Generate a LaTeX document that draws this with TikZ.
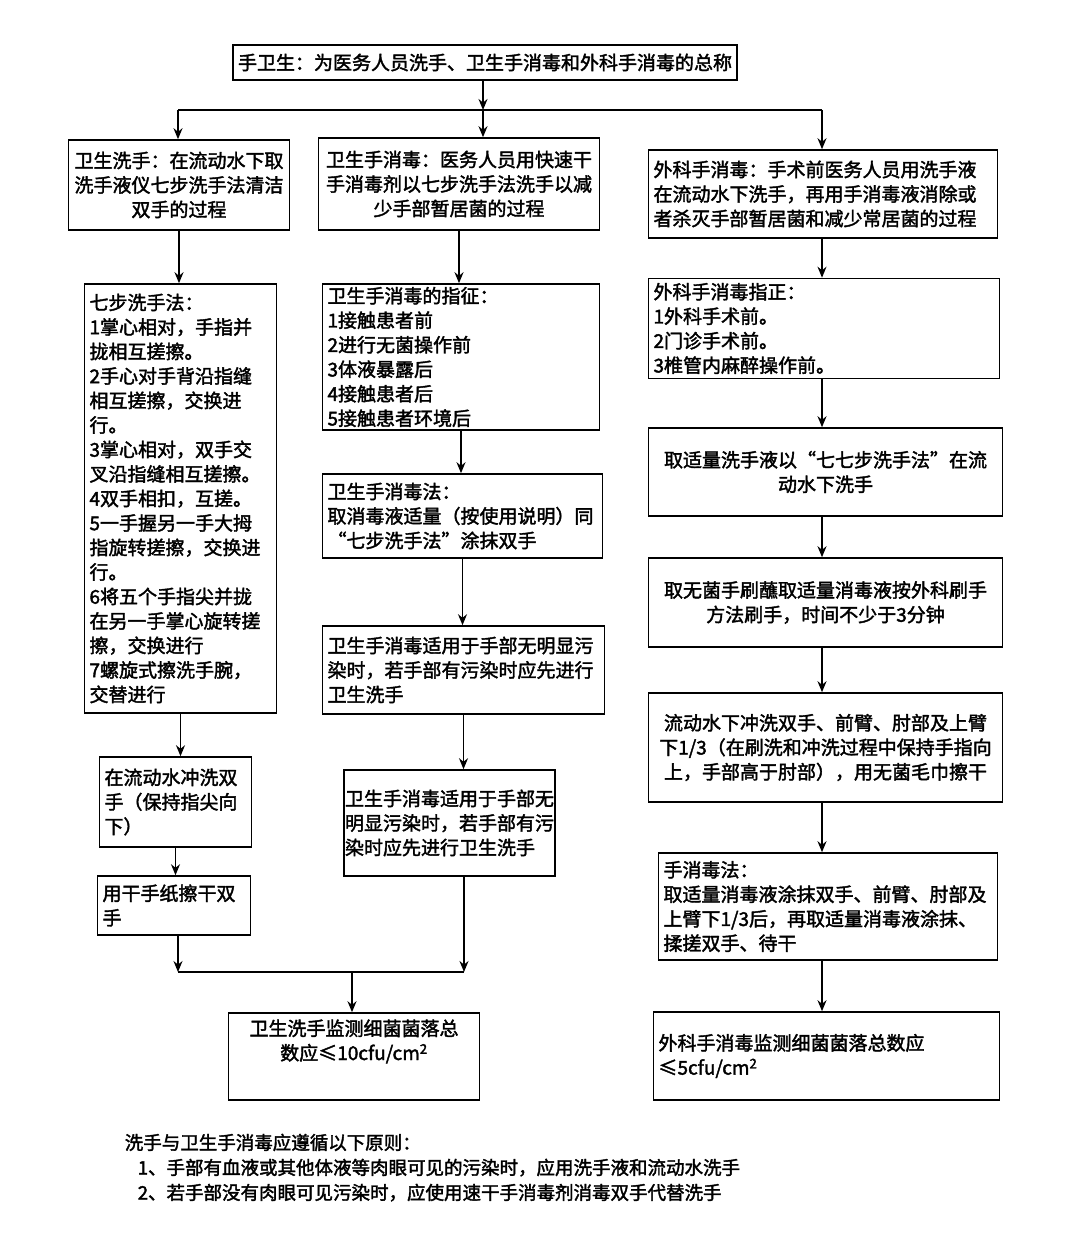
\documentclass[tikz,border=0pt]{standalone}
\usepackage{fontspec}
\setmainfont{Noto Sans CJK SC}[AutoFakeBold=2]
\usepackage{tikz}
\usetikzlibrary{arrows.meta}

\newcommand{\boxfont}{\fontsize{19}{24.5}\selectfont\bfseries}

\begin{document}
\begin{tikzpicture}[
    x=1pt, y=-1pt,
    >={Stealth[length=11pt,width=9pt]},
    line width=1.6pt,
    box/.style={draw, rectangle, line width=1.6pt, inner sep=5pt, align=left, font=\boxfont},
    cbox/.style={box, align=center}
]
    \useasboundingbox (0,0) rectangle (1080,1246);

    % Top
    \node[box, minimum height=35pt] (hh_top) at (485,62.5) {手卫生：为医务人员洗手、卫生手消毒和外科手消毒的总称};

    % Three branches
    \node[cbox, text width=211pt, minimum height=90pt] (wash_def) at (179,185) {卫生洗手：在流动水下取\\洗手液仪七步洗手法清洁\\双手的过程};
    \node[cbox, text width=271pt, minimum height=92pt] (hyg_def) at (459,184) {卫生手消毒：医务人员用快速干\\手消毒剂以七步洗手法洗手以减\\少手部暂居菌的过程};
    \node[box, text width=339pt, minimum height=88pt] (surg_def) at (823,194) {外科手消毒：手术前医务人员用洗手液\\在流动水下洗手，再用手消毒液消除或\\者杀灭手部暂居菌和减少常居菌的过程};

    \coordinate (split_l) at (178,110);
    \coordinate (split_mid) at (483,110);
    \coordinate (split_r) at (822,110);

    \draw[->] (hh_top.south -| split_mid) -- (split_mid);
    \draw (split_l) -- (split_r);
    \draw[->] (split_l) -- (wash_def.north -| split_l);
    \draw[->] (split_mid) -- (hyg_def.north -| split_mid);
    \draw[->] (split_r) -- (surg_def.north -| split_r);

    % Left column: hand washing
    \node[box, text width=182pt, minimum height=429pt] (wash_steps) at (180.5,498.5) {七步洗手法：\\1掌心相对，手指并\\拢相互搓擦。\\2手心对手背沿指缝\\相互搓擦，交换进\\行。\\3掌心相对，双手交\\叉沿指缝相互搓擦。\\4双手相扣，互搓。\\5一手握另一手大拇\\指旋转搓擦，交换进\\行。\\6将五个手指尖并拢\\在另一手掌心旋转搓\\擦，交换进行\\7螺旋式擦洗手腕，\\交替进行};
    \node[box, text width=142pt, minimum height=90pt] (rinse) at (175.5,802) {在流动水冲洗双\\手（保持指尖向\\下）};
    \node[box, text width=143pt, minimum height=59pt] (dry) at (174,905.5) {用干手纸擦干双\\手};

    \draw[->] (wash_def.south) -- (wash_def.south |- wash_steps.north);
    \draw[->] (wash_steps.south) -- (wash_steps.south |- rinse.north);
    \draw[->] (rinse.south) -- (rinse.south |- dry.north);

    % Middle column: hygienic hand disinfection
    \node[box, text width=267pt, minimum height=146pt, inner ysep=2pt] (hyg_ind) at (461,357) {卫生手消毒的指征：\\1接触患者前\\2进行无菌操作前\\3体液暴露后\\4接触患者后\\5接触患者环境后};
    \node[box, text width=270pt, minimum height=84pt] (hyg_method) at (462.5,516) {卫生手消毒法：\\取消毒液适量（按使用说明）同\\“七步洗手法”涂抹双手};
    \node[box, text width=272pt, minimum height=88pt] (hyg_use) at (463.5,670) {卫生手消毒适用于手部无明显污\\染时，若手部有污染时应先进行\\卫生洗手};
    \node[box, text width=209pt, inner xsep=1pt, minimum height=106pt] (hyg_use2) at (449.5,823) {卫生手消毒适用于手部无\\明显污染时，若手部有污\\染时应先进行卫生洗手};

    \draw[->] (hyg_def.south) -- (hyg_def.south |- hyg_ind.north);
    \draw[->] (hyg_ind.south) -- (hyg_ind.south |- hyg_method.north);
    \draw[->] (hyg_method.south) -- (hyg_method.south |- hyg_use.north);
    \draw[->] (hyg_use.south) -- (hyg_use.south |- hyg_use2.north);

    % Merge into the check
    \node[cbox, text width=241pt, minimum height=87pt, text depth=58pt] (wash_check) at (354,1056.5) {卫生洗手监测细菌菌落总\\数应≤10cfu/cm\textsuperscript{2}};

    \coordinate (join_l) at (178,972);
    \coordinate (join_mid) at (352,972);
    \coordinate (join_r) at (464,972);

    \draw[->] (dry.south -| join_l) -- (join_l);
    \draw[->] (hyg_use2.south -| join_r) -- (join_r);
    \draw (join_l) -- (join_r);
    \draw[->] (join_mid) -- (wash_check.north -| join_mid);

    % Right column: surgical hand disinfection
    \node[box, text width=341pt, minimum height=100pt, inner ysep=2pt] (surg_ind) at (824,328.5) {外科手消毒指正：\\1外科手术前。\\2门诊手术前。\\3椎管内麻醉操作前。};
    \node[cbox, text width=344pt, minimum height=88pt] (surg_wash) at (825.5,472) {取适量洗手液以“七七步洗手法”在流\\动水下洗手};
    \node[cbox, text width=344pt, minimum height=89pt] (surg_brush) at (825.5,602.5) {取无菌手刷蘸取适量消毒液按外科刷手\\方法刷手，时间不少于3分钟};
    \node[cbox, text width=344pt, minimum height=109pt] (surg_rinse) at (825.5,747.5) {流动水下冲洗双手、前臂、肘部及上臂\\下1/3（在刷洗和冲洗过程中保持手指向\\上，手部高于肘部），用无菌毛巾擦干};
    \node[box, text width=329pt, minimum height=107pt] (surg_method) at (828,906.5) {手消毒法：\\取适量消毒液涂抹双手、前臂、肘部及\\上臂下1/3后，再取适量消毒液涂抹、\\揉搓双手、待干};
    \node[box, text width=336pt, minimum height=88pt] (surg_check) at (826.5,1056) {外科手消毒监测细菌菌落总数应\\≤5cfu/cm\textsuperscript{2}};

    \draw[->] (surg_def.south -| split_r) -- (surg_ind.north -| split_r);
    \draw[->] (surg_ind.south -| split_r) -- (surg_wash.north -| split_r);
    \draw[->] (surg_wash.south -| split_r) -- (surg_brush.north -| split_r);
    \draw[->] (surg_brush.south -| split_r) -- (surg_rinse.north -| split_r);
    \draw[->] (surg_rinse.south -| split_r) -- (surg_method.north -| split_r);
    \draw[->] (surg_method.south -| split_r) -- (surg_check.north -| split_r);

    % Principles
    \node[anchor=north west, align=left, inner sep=0pt, font=\fontsize{18.5}{25}\selectfont\bfseries] (notes) at (124,1133) {洗手与卫生手消毒应遵循以下原则：\\\hspace*{13pt}1、手部有血液或其他体液等肉眼可见的污染时，应用洗手液和流动水洗手\\\hspace*{13pt}2、若手部没有肉眼可见污染时，应使用速干手消毒剂消毒双手代替洗手};

\end{tikzpicture}
\end{document}
